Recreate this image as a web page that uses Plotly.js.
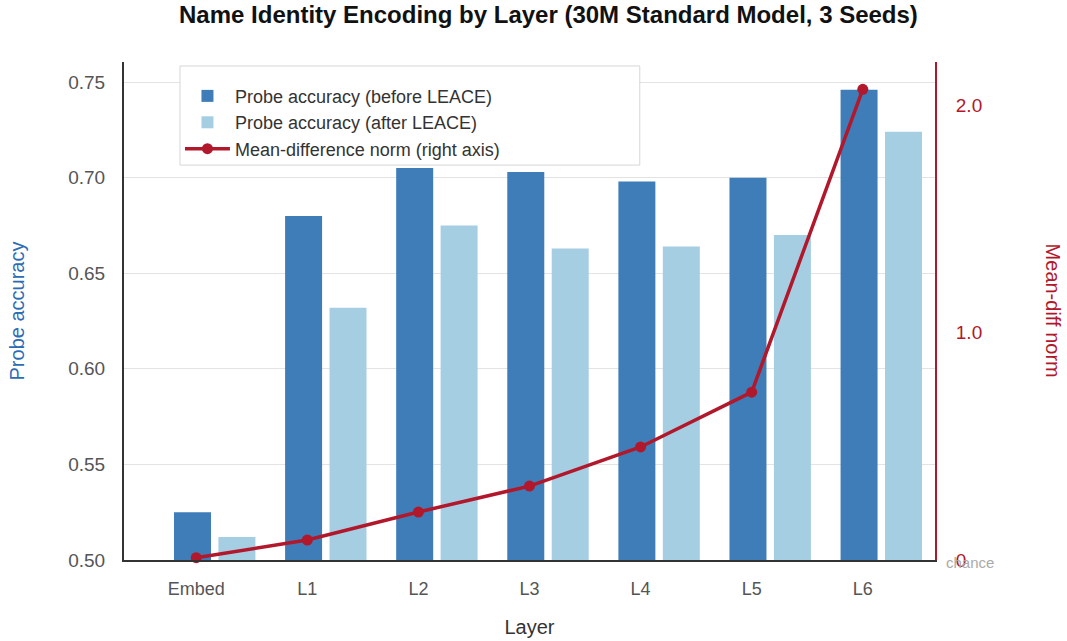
<!DOCTYPE html>
<html>
<head>
<meta charset="utf-8">
<script src="https://cdn.plot.ly/plotly-3.0.1.min.js"></script>
<style>html,body{margin:0;padding:0;background:#fff;}#chart{width:1067px;height:641px;}</style>
</head>
<body>
<div id="chart"></div>
<script>
const layers = ["Embed", "L1", "L2", "L3", "L4", "L5", "L6"];
const accBefore = [0.525, 0.680, 0.705, 0.703, 0.698, 0.700, 0.746];
const accAfter = [0.512, 0.632, 0.675, 0.663, 0.664, 0.670, 0.724];
const meanDiffNorm = [0.01, 0.088, 0.211, 0.325, 0.497, 0.738, 2.07];
const rightTickVals = [0, 1, 2];
const rightTickText = ["0", "1.0", "2.0"];

const FONT = "Liberation Sans, Arial, Helvetica, sans-serif";
const RED = "#b2182b";

const traces = [
  {
    type: "bar", name: "Probe accuracy (before LEACE)",
    x: layers, y: accBefore,
    offset: -0.2, width: 0.333,
    marker: {color: "#3f7db8"},
    hoverinfo: "y"
  },
  {
    type: "bar", name: "Probe accuracy (after LEACE)",
    x: layers, y: accAfter,
    offset: 0.2, width: 0.333,
    marker: {color: "#a6cee3"},
    hoverinfo: "y"
  },
  {
    type: "scatter", mode: "lines+markers", name: "Mean-difference norm (right axis)",
    x: layers, y: meanDiffNorm, yaxis: "y2",
    line: {color: RED, width: 3.5},
    marker: {color: RED, size: 11},
    cliponaxis: false
  }
];

const layout = {
  width: 1067, height: 641,
  margin: {l: 124, r: 132, t: 62, b: 81},
  paper_bgcolor: "#fff", plot_bgcolor: "#fff",
  font: {family: FONT, size: 18, color: "#555"},
  barmode: "overlay",
  title: {
    text: "<b>Name Identity Encoding by Layer (30M Standard Model, 3 Seeds)</b>",
    font: {family: FONT, size: 24, color: "#111"},
    x: 0.514, xanchor: "center", y: 0.977, yanchor: "middle"
  },
  xaxis: {
    type: "category", range: [-0.65, 6.65],
    showgrid: false, zeroline: false,
    showline: true, linecolor: "#333", linewidth: 2,
    ticks: "", ticklabelstandoff: 11,
    tickfont: {size: 18, color: "#555"},
    title: {text: "Layer", font: {size: 20, color: "#333"}, standoff: 22}
  },
  yaxis: {
    range: [0.5, 0.7605],
    tickvals: [0.5, 0.55, 0.6, 0.65, 0.7, 0.75],
    tickformat: ".2f",
    showgrid: true, gridcolor: "#e3e3e3", gridwidth: 1,
    zeroline: false,
    showline: true, linecolor: "#333", linewidth: 2,
    ticks: "", ticklabelstandoff: 13,
    tickfont: {size: 19, color: "#555"},
    title: {text: "Probe accuracy", font: {size: 20, color: "#2b6cb5"}, standoff: 38}
  },
  yaxis2: {
    overlaying: "y", side: "right",
    range: [0, 2.19],
    tickvals: rightTickVals, ticktext: rightTickText,
    showgrid: false, zeroline: false,
    showline: true, linecolor: RED, linewidth: 2,
    ticks: "", ticklabelstandoff: 15,
    tickfont: {size: 19, color: RED}
  },
  legend: {
    x: 0.069, y: 0.992, xanchor: "left", yanchor: "top",
    bgcolor: "rgba(0,0,0,0)", borderwidth: 0,
    font: {size: 18, color: "#333"},
    title: {text: " ", font: {size: 9}},
    tracegroupgap: 4, itemwidth: 45
  },
  shapes: [
    {
      type: "rect", xref: "paper", yref: "paper", layer: "above",
      x0: 0.069, x1: 0.636, y0: 0.793, y1: 0.992,
      fillcolor: "rgba(255,255,255,0.95)",
      line: {color: "#d6d6d6", width: 1}
    }
  ],
  annotations: [
    {
      text: "Mean-diff norm", textangle: 90,
      xref: "paper", yref: "paper", x: 1.146, y: 0.5,
      xanchor: "center", yanchor: "middle", showarrow: false,
      font: {size: 20, color: RED}
    },
    {
      text: "chance",
      xref: "paper", yref: "y", x: 1, y: 0.5,
      xanchor: "left", yanchor: "middle", xshift: 9, yshift: -2, showarrow: false,
      font: {size: 15, color: "#aaa"}
    }
  ],
  showlegend: true
};

Plotly.newPlot("chart", traces, layout, {displayModeBar: false, staticPlot: true});
</script>
</body>
</html>
